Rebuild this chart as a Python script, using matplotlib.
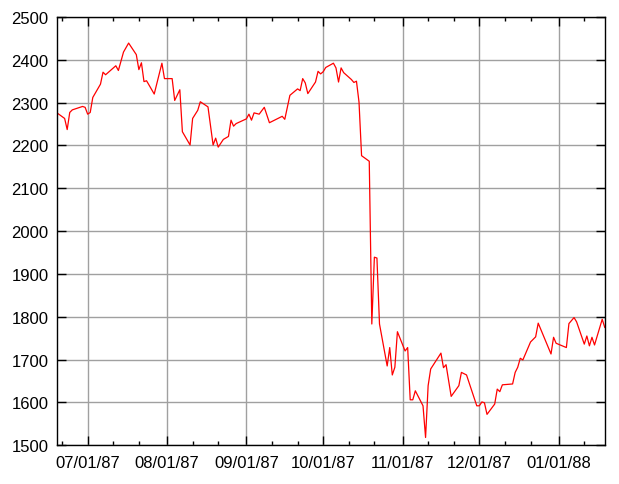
import matplotlib
matplotlib.use("Agg")
import matplotlib.pyplot as plt
import matplotlib.dates as mdates
import pandas as pd

# readings taken off the reference chart (date, index level)
dates = [
    "1987-06-19", "1987-06-22", "1987-06-23", "1987-06-24", "1987-06-25",
    "1987-06-29", "1987-06-30", "1987-07-01", "1987-07-02", "1987-07-03",
    "1987-07-06", "1987-07-07", "1987-07-08", "1987-07-12", "1987-07-13",
    "1987-07-15", "1987-07-17", "1987-07-20", "1987-07-21", "1987-07-22",
    "1987-07-23", "1987-07-24", "1987-07-27", "1987-07-30", "1987-07-31",
    "1987-08-03", "1987-08-04", "1987-08-06", "1987-08-07", "1987-08-10",
    "1987-08-11", "1987-08-13", "1987-08-14", "1987-08-17", "1987-08-19",
    "1987-08-20", "1987-08-21", "1987-08-23", "1987-08-25", "1987-08-26",
    "1987-08-27", "1987-08-28", "1987-09-01", "1987-09-02", "1987-09-03",
    "1987-09-04", "1987-09-06", "1987-09-08", "1987-09-10", "1987-09-15",
    "1987-09-16", "1987-09-18", "1987-09-21", "1987-09-22", "1987-09-23",
    "1987-09-24", "1987-09-25", "1987-09-28", "1987-09-29", "1987-09-30",
    "1987-10-01", "1987-10-02", "1987-10-05", "1987-10-06", "1987-10-07",
    "1987-10-08", "1987-10-09", "1987-10-12", "1987-10-13", "1987-10-14",
    "1987-10-15", "1987-10-16", "1987-10-19", "1987-10-20", "1987-10-21",
    "1987-10-22", "1987-10-23", "1987-10-26", "1987-10-27", "1987-10-28",
    "1987-10-29", "1987-10-30", "1987-11-02", "1987-11-03", "1987-11-04",
    "1987-11-05", "1987-11-06", "1987-11-09", "1987-11-10", "1987-11-11",
    "1987-11-12", "1987-11-16", "1987-11-17", "1987-11-18", "1987-11-20",
    "1987-11-23", "1987-11-24", "1987-11-26", "1987-11-30", "1987-12-01",
    "1987-12-02", "1987-12-03", "1987-12-04", "1987-12-07", "1987-12-08",
    "1987-12-09", "1987-12-10", "1987-12-14", "1987-12-15", "1987-12-16",
    "1987-12-17", "1987-12-18", "1987-12-21", "1987-12-23", "1987-12-24",
    "1987-12-29", "1987-12-30", "1987-12-31", "1988-01-04", "1988-01-05",
    "1988-01-07", "1988-01-08", "1988-01-11", "1988-01-12", "1988-01-13",
    "1988-01-14", "1988-01-15", "1988-01-18", "1988-01-19",
]
values = [
    2276, 2263, 2237, 2277, 2283,
    2291, 2289, 2273, 2277, 2312,
    2343, 2371, 2365, 2386, 2375,
    2418, 2439, 2412, 2377, 2393,
    2349, 2351, 2320, 2392, 2356,
    2356, 2305, 2330, 2232, 2201,
    2263, 2282, 2302, 2290, 2201,
    2217, 2196, 2214, 2221, 2259,
    2245, 2251, 2262, 2273, 2259,
    2276, 2273, 2289, 2253, 2268,
    2261, 2317, 2332, 2328, 2356,
    2346, 2321, 2348, 2373, 2367,
    2372, 2382, 2392, 2381, 2348,
    2381, 2370, 2354, 2347, 2350,
    2301, 2176, 2163, 1783, 1939,
    1937, 1783, 1685, 1728, 1664,
    1682, 1765, 1720, 1728, 1606,
    1606, 1627, 1592, 1518, 1639,
    1678, 1715, 1681, 1688, 1614,
    1639, 1670, 1664, 1592, 1592,
    1601, 1599, 1572, 1596, 1631,
    1625, 1641, 1643, 1670, 1682,
    1703, 1699, 1741, 1753, 1785,
    1713, 1752, 1738, 1728, 1784,
    1798, 1788, 1736, 1755, 1732,
    1752, 1734, 1794, 1775,
]

x = pd.to_datetime(dates)

plt.rcParams['font.family'] = ['Liberation Sans', 'DejaVu Sans']

fig = plt.figure(figsize=(6.19, 4.85), dpi=100)
ax = fig.add_axes([0.092, 0.080, 0.885, 0.883])

ax.plot(x, values, color='#ff0000', linewidth=0.9, zorder=3)

ax.set_xlim(x[0], x[-1])
ax.set_ylim(1500, 2500)
ax.set_yticks(range(1500, 2501, 100))

ax.xaxis.set_major_locator(mdates.MonthLocator())
ax.xaxis.set_minor_locator(mdates.DayLocator(bymonthday=[11, 21]))
ax.xaxis.set_major_formatter(mdates.DateFormatter('%m/%d/%y'))

ax.grid(True, which='major', color='#a0a0a0', linewidth=1.0, linestyle='-', zorder=1)
ax.tick_params(which='both', direction='in', top=True, right=True, labelsize=12,
               color='black', width=1.0)
ax.tick_params(which='major', length=6.5)
ax.tick_params(which='minor', length=3)
ax.tick_params(axis='x', pad=7)
ax.tick_params(axis='y', pad=6)

for s in ax.spines.values():
    s.set_linewidth(1.0)
    s.set_zorder(4)

fig.savefig('out.png', dpi=100)
